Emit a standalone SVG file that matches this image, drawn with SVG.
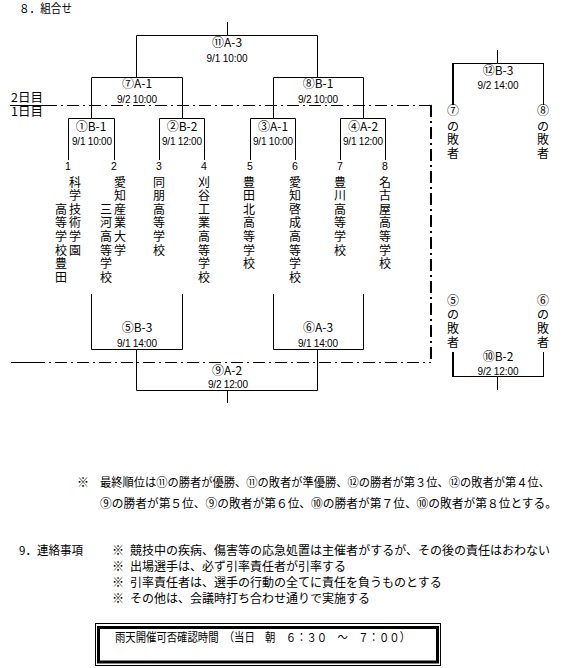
<svg xmlns="http://www.w3.org/2000/svg" width="577" height="668" viewBox="0 0 577 668">
<style>
.ln{stroke:#000;stroke-width:1;fill:none}
.th{stroke:#000;stroke-width:2;fill:none}
.dd{stroke:#000;fill:none;stroke-dasharray:12 4 2 4}
text{font-family:"Noto Sans CJK JP","Noto Sans",sans-serif;fill:#000;font-size:12px}
.c{text-anchor:middle}
.tm{font-family:"Liberation Sans",sans-serif;font-size:10px;text-anchor:middle}
.num{font-family:"Liberation Sans",sans-serif;font-size:10.5px;text-anchor:middle}
</style>
<rect width="577" height="668" fill="#fff"/>
<text x="19" y="13" textLength="53" lengthAdjust="spacingAndGlyphs">８．組合せ</text>

<g id="day-divider">
<path class="ln" d="M10 105.5H45M11 362.5H33"/>
<path class="dd" d="M45 105.5H431M33 362.5H431"/>
<path class="dd" style="stroke-width:2" d="M431 105V362"/>
<text x="11" y="102" textLength="32" lengthAdjust="spacingAndGlyphs">2日目</text>
<text x="11" y="116" textLength="32" lengthAdjust="spacingAndGlyphs">1日目</text>
</g>

<g id="connectors">
<path class="ln" d="M227.5 22V35.5M136.5 35.5H317.5M136.5 35.5V77.5M317.5 35.5V77.5M91.5 77.5H182.5M273.5 77.5H363.5M91.5 77.5V118.5M182.5 77.5V118.5M273.5 77.5V118.5M363.5 77.5V118.5"/>
<path class="ln" d="M136.5 349.5V390.5M317.5 349.5V390.5M136.5 390.5H317.5M227.5 390.5V403"/>
<path class="ln" d="M497.5 50V63.5M453 63.5H544M543.5 63.5V105M543.5 352V376.5M453 376.5H544M497.5 376.5V390"/>
<path class="th" d="M453 63V105M453 352V377"/>
</g>

<g id="m11"><text class="c" x="227" y="46.5">⑪A-3</text><text class="tm" x="227" y="62" textLength="41">9/1 10:00</text></g>
<g id="m7"><text class="c" x="137" y="88">⑦A-1</text><text class="tm" x="137" y="103" textLength="40">9/2 10:00</text></g>
<g id="m8"><text class="c" x="318" y="88">⑧B-1</text><text class="tm" x="318" y="103" textLength="40">9/2 10:00</text></g>

<g id="m1"><path class="ln" d="M68.5 160V118.5H114.5V160"/><text class="c" x="91" y="130.5">①B-1</text><text class="tm" x="92" y="145" textLength="40">9/1 10:00</text></g>
<g id="m2"><path class="ln" d="M159.5 160V118.5H204.5V160"/><text class="c" x="182" y="130.5">②B-2</text><text class="tm" x="182" y="145" textLength="40">9/1 12:00</text></g>
<g id="m3"><path class="ln" d="M250.5 160V118.5H295.5V160"/><text class="c" x="273" y="130.5">③A-1</text><text class="tm" x="273" y="145" textLength="40">9/1 10:00</text></g>
<g id="m4"><path class="ln" d="M340.5 160V118.5H385.5V160"/><text class="c" x="363" y="130.5">④A-2</text><text class="tm" x="363" y="145" textLength="40">9/1 12:00</text></g>

<g id="m5"><path class="ln" d="M91.5 294V349.5H182.5V294"/><text class="c" x="137" y="331.5">⑤B-3</text><text class="tm" x="137" y="347" textLength="40">9/1 14:00</text></g>
<g id="m6"><path class="ln" d="M273.5 294V349.5H363.5V294"/><text class="c" x="318" y="331.5">⑥A-3</text><text class="tm" x="318" y="347" textLength="40">9/1 14:00</text></g>
<g id="m9"><text class="c" x="227" y="374.5">⑨A-2</text><text class="tm" x="228" y="388" textLength="40">9/2 12:00</text></g>
<g id="m12"><text class="c" x="498" y="74.5">⑫B-3</text><text class="tm" x="498" y="89" textLength="41">9/2 14:00</text></g>
<g id="m10"><text class="c" x="498" y="360.5">⑩B-2</text><text class="tm" x="498" y="375" textLength="41">9/2 12:00</text></g>

<g id="team1"><text class="num" x="68" y="170">1</text>
<text class="c" x="75" y="186.5">科</text><text class="c" x="75" y="200.1">学</text><text class="c" x="75" y="213.7">技</text><text class="c" x="75" y="227.3">術</text><text class="c" x="75" y="240.9">学</text><text class="c" x="75" y="254.5">園</text>
<text class="c" x="61" y="213.7">高</text><text class="c" x="61" y="227.3">等</text><text class="c" x="61" y="240.9">学</text><text class="c" x="61" y="254.5">校</text><text class="c" x="61" y="268.1">豊</text><text class="c" x="61" y="281.7">田</text></g>
<g id="team2"><text class="num" x="114" y="170">2</text>
<text class="c" x="120" y="186.5">愛</text><text class="c" x="120" y="200.1">知</text><text class="c" x="120" y="213.7">産</text><text class="c" x="120" y="227.3">業</text><text class="c" x="120" y="240.9">大</text><text class="c" x="120" y="254.5">学</text>
<text class="c" x="106" y="213.7">三</text><text class="c" x="106" y="227.3">河</text><text class="c" x="106" y="240.9">高</text><text class="c" x="106" y="254.5">等</text><text class="c" x="106" y="268.1">学</text><text class="c" x="106" y="281.7">校</text></g>
<g id="team3"><text class="num" x="159" y="170">3</text>
<text class="c" x="159" y="186.5">同</text><text class="c" x="159" y="200.1">朋</text><text class="c" x="159" y="213.7">高</text><text class="c" x="159" y="227.3">等</text><text class="c" x="159" y="240.9">学</text><text class="c" x="159" y="254.5">校</text></g>
<g id="team4"><text class="num" x="204" y="170">4</text>
<text class="c" x="204" y="186.5">刈</text><text class="c" x="204" y="200.1">谷</text><text class="c" x="204" y="213.7">工</text><text class="c" x="204" y="227.3">業</text><text class="c" x="204" y="240.9">高</text><text class="c" x="204" y="254.5">等</text><text class="c" x="204" y="268.1">学</text><text class="c" x="204" y="281.7">校</text></g>
<g id="team5"><text class="num" x="250" y="170">5</text>
<text class="c" x="249" y="186.5">豊</text><text class="c" x="249" y="200.1">田</text><text class="c" x="249" y="213.7">北</text><text class="c" x="249" y="227.3">高</text><text class="c" x="249" y="240.9">等</text><text class="c" x="249" y="254.5">学</text><text class="c" x="249" y="268.1">校</text></g>
<g id="team6"><text class="num" x="295" y="170">6</text>
<text class="c" x="295" y="186.5">愛</text><text class="c" x="295" y="200.1">知</text><text class="c" x="295" y="213.7">啓</text><text class="c" x="295" y="227.3">成</text><text class="c" x="295" y="240.9">高</text><text class="c" x="295" y="254.5">等</text><text class="c" x="295" y="268.1">学</text><text class="c" x="295" y="281.7">校</text></g>
<g id="team7"><text class="num" x="340" y="170">7</text>
<text class="c" x="340" y="186.5">豊</text><text class="c" x="340" y="200.1">川</text><text class="c" x="340" y="213.7">高</text><text class="c" x="340" y="227.3">等</text><text class="c" x="340" y="240.9">学</text><text class="c" x="340" y="254.5">校</text></g>
<g id="team8"><text class="num" x="385" y="170">8</text>
<text class="c" x="385" y="186.5">名</text><text class="c" x="385" y="200.1">古</text><text class="c" x="385" y="213.7">屋</text><text class="c" x="385" y="227.3">高</text><text class="c" x="385" y="240.9">等</text><text class="c" x="385" y="254.5">学</text><text class="c" x="385" y="268.1">校</text></g>

<g id="loser7"><text class="c" x="453" y="115">⑦</text><text class="c" x="453" y="130.5">の</text><text class="c" x="453" y="144">敗</text><text class="c" x="453" y="157.5">者</text></g>
<g id="loser8"><text class="c" x="543" y="115">⑧</text><text class="c" x="543" y="130.5">の</text><text class="c" x="543" y="144">敗</text><text class="c" x="543" y="157.5">者</text></g>
<g id="loser5"><text class="c" x="453" y="304.5">⑤</text><text class="c" x="453" y="318.5">の</text><text class="c" x="453" y="332.5">敗</text><text class="c" x="453" y="346.5">者</text></g>
<g id="loser6"><text class="c" x="543" y="304.5">⑥</text><text class="c" x="543" y="318.5">の</text><text class="c" x="543" y="332.5">敗</text><text class="c" x="543" y="346.5">者</text></g>

<g id="ranking">
<text x="77" y="486.5">※</text>
<text x="100" y="486.5" textLength="450" lengthAdjust="spacingAndGlyphs">最終順位は⑪の勝者が優勝、⑪の敗者が準優勝、⑫の勝者が第３位、⑫の敗者が第４位、</text>
<text x="100" y="507.5" textLength="457" lengthAdjust="spacingAndGlyphs">⑨の勝者が第５位、⑨の敗者が第６位、⑩の勝者が第７位、⑩の敗者が第８位とする。</text>
</g>

<g id="notes">
<text x="19" y="554.5" textLength="64" lengthAdjust="spacingAndGlyphs">9．連絡事項</text>
<text x="112" y="554.5">※</text><text x="130" y="554.5" textLength="420" lengthAdjust="spacingAndGlyphs">競技中の疾病、傷害等の応急処置は主催者がするが、その後の責任はおわない</text>
<text x="112" y="571">※</text><text x="130" y="571">出場選手は、必ず引率責任者が引率する</text>
<text x="112" y="587">※</text><text x="130" y="587">引率責任者は、選手の行動の全てに責任を負うものとする</text>
<text x="112" y="602.5">※</text><text x="130" y="602.5">その他は、会議時打ち合わせ通りで実施する</text>
</g>

<g id="rain-box">
<rect class="ln" x="95.5" y="623.5" width="345" height="42"/>
<rect x="98.5" y="627.5" width="339" height="34.5" fill="none" stroke="#000" stroke-width="3"/>
<text x="115" y="641.5" textLength="295" lengthAdjust="spacingAndGlyphs">雨天開催可否確認時間　（当日　朝　６：３０　～　７：００）</text>
</g>
</svg>
